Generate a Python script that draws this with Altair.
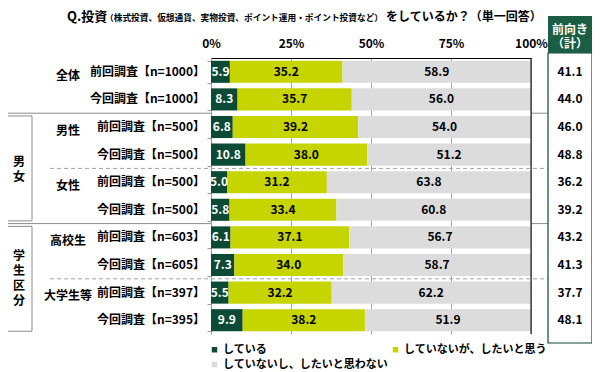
import altair as alt
import pandas as pd

FONT = "Noto Sans CJK JP"

groups = ["全体", "男性", "女性", "高校生", "大学生等"]
group_first_row = [0, 2, 4, 6, 8]
row_labels = ["前回調査【n=1000】", "今回調査【n=1000】", "前回調査【n=500】", "今回調査【n=500】",
              "前回調査【n=500】", "今回調査【n=500】", "前回調査【n=603】", "今回調査【n=605】",
              "前回調査【n=397】", "今回調査【n=395】"]
doing = [5.9, 8.3, 6.8, 10.8, 5.0, 5.8, 6.1, 7.3, 5.5, 9.9]
want = [35.2, 35.7, 39.2, 38.0, 31.2, 33.4, 37.1, 34.0, 32.2, 38.2]
nowant = [58.9, 56.0, 54.0, 51.2, 63.8, 60.8, 56.7, 58.7, 62.2, 51.9]
positive = ["41.1", "44.0", "46.0", "48.8", "36.2", "39.2", "43.2", "41.3", "37.7", "48.1"]
series = ["している", "していないが、したいと思う", "していないし、したいと思わない"]
colors = ["#0d4a35", "#c6d500", "#dcdcdc"]
text_colors = ["white", "black", "black"]
ticks = [0, 25, 50, 75, 100]
categories = ["男女", "学生区分"]
category_rows = [(2, 5, 3), (6, 9, 7)]
category_shift = [18.8, 1.8]
solid_rows = [2, 6]
dashed_rows = [4, 8]

rows = list(range(10))

recs = []
for r in rows:
    start = 0.0
    for s, vals in enumerate([doing, want, nowant]):
        v = vals[r]
        recs.append({"row": r, "series": series[s], "start": start, "end": start + v,
                     "mid": start + v / 2, "label": f"{v:.1f}", "tc": text_colors[s]})
        start += v
bars_df = pd.DataFrame(recs)
rows_df = pd.DataFrame({"row": rows, "label": row_labels, "pos": positive})
groups_df = pd.DataFrame({"row": group_first_row, "g": groups})
cat_df = pd.DataFrame({"r0": [c[0] for c in category_rows], "r1": [c[1] for c in category_rows],
                       "row": [c[2] for c in category_rows], "off": category_shift,
                       "txt": ["\n".join(list(c)) for c in categories]})
solid_df = pd.DataFrame({"row": solid_rows})
dashed_df = pd.DataFrame({"row": dashed_rows})
one = pd.DataFrame({"k": [0]})

yscale = alt.Scale(domain=rows, paddingInner=0.2, paddingOuter=0.1)
xscale = alt.Scale(domain=[0, 100], nice=False)

BOX_L, BOX_R, BOX_C = 337, 381, 359

bars = alt.Chart(bars_df).mark_bar().encode(
    x=alt.X("start:Q", scale=xscale, title=None,
            axis=alt.Axis(orient="top", values=ticks, labelExpr="datum.value + '%'",
                          grid=True, gridColor="#a6a6a6", domainColor="black", ticks=False,
                          labelFontSize=12, labelFontWeight="bold", labelFont=FONT,
                          labelPadding=8, labelColor="black", labelFlush=False)),
    x2="end:Q",
    y=alt.Y("row:O", scale=yscale, title=None,
            axis=alt.Axis(labels=False, tickBand="extent", domainColor="#999999",
                          tickColor="#999999", tickSize=4, grid=False)),
    color=alt.Color("series:N", scale=alt.Scale(domain=series, range=colors),
                    legend=alt.Legend(orient="none", legendX=-2, legendY=286, columns=2,
                                      direction="horizontal",
                                      title=None, symbolType="square", symbolSize=30,
                                      symbolStrokeWidth=0, labelFontSize=11,
                                      labelFontWeight="bold", labelFont=FONT,
                                      columnPadding=2, rowPadding=3, labelOffset=3,
                                      labelLimit=400, labelColor="black")),
)

bar_text = alt.Chart(bars_df).mark_text(font=FONT, fontSize=12, fontWeight="bold").encode(
    x=alt.X("mid:Q", scale=xscale, title=None),
    y=alt.Y("row:O", scale=yscale, title=None),
    text="label:N",
    color=alt.Color("tc:N", scale=None),
)

row_text = alt.Chart(rows_df).mark_text(font=FONT, fontSize=12, fontWeight="bold",
                                        align="right", color="black").encode(
    x=alt.value(-6),
    y=alt.Y("row:O", scale=yscale, title=None),
    text="label:N",
)

group_text = alt.Chart(groups_df).mark_text(font=FONT, fontSize=12, fontWeight="bold",
                                            align="center", color="black").encode(
    x=alt.value(-143),
    y=alt.Y("row:O", scale=yscale, title=None),
    yOffset=alt.value(14.8),
    text="g:N",
)

solid_left = alt.Chart(solid_df).mark_rule(color="#8c8c8c", strokeWidth=1).encode(
    x=alt.value(-209), x2=alt.value(0),
    y=alt.Y("row:O", scale=yscale, title=None, bandPosition=0),
    yOffset=alt.value(-2.76),
)
solid_right = alt.Chart(solid_df).mark_rule(color="#8c8c8c", strokeWidth=1).encode(
    x=alt.value(320), x2=alt.value(BOX_R),
    y=alt.Y("row:O", scale=yscale, title=None, bandPosition=0),
    yOffset=alt.value(-2.76),
)
dashed = alt.Chart(dashed_df).mark_rule(color="#a0a0a0", strokeWidth=1, strokeDash=[4, 3]).encode(
    x=alt.value(-161), x2=alt.value(BOX_R),
    y=alt.Y("row:O", scale=yscale, title=None, bandPosition=0),
    yOffset=alt.value(-2.76),
)

cat_box = alt.Chart(cat_df).mark_rect(fill="white", stroke="#8c8c8c", strokeWidth=1).encode(
    x=alt.value(-205), x2=alt.value(-179),
    y=alt.Y("r0:O", scale=yscale, title=None, bandPosition=0),
    y2=alt.Y2("r1:O", bandPosition=1),
)
cat_text = alt.Chart(cat_df).mark_text(font=FONT, fontSize=12, fontWeight="bold",
                                       lineBreak="\n", lineHeight=15, color="black").encode(
    x=alt.value(-192),
    y=alt.Y("row:O", scale=yscale, title=None),
    yOffset=alt.YOffset("off:Q", scale=None),
    text="txt:N",
)

right_border = alt.Chart(one).mark_rule(color="black", strokeWidth=1).encode(
    x=alt.value(320), y=alt.value(0), y2=alt.value(276))

box_body = alt.Chart(one).mark_rect(fill="white", stroke="#0d4a35", strokeWidth=1.2).encode(
    x=alt.value(BOX_L), x2=alt.value(BOX_R), y=alt.value(-5), y2=alt.value(285))
box_head = alt.Chart(one).mark_rect(fill="#1b5e43").encode(
    x=alt.value(BOX_L), x2=alt.value(BOX_R), y=alt.value(-42), y2=alt.value(-5))
head_text = alt.Chart(one).mark_text(font=FONT, fontSize=12, fontWeight="bold", color="white",
                                     lineBreak="\n", lineHeight=14).encode(
    x=alt.value(BOX_C), y=alt.value(-28), text=alt.value("前向き\n（計）"))
pos_text = alt.Chart(rows_df).mark_text(font=FONT, fontSize=12, fontWeight="bold",
                                        color="black").encode(
    x=alt.value(BOX_C),
    y=alt.Y("row:O", scale=yscale, title=None),
    text="pos:N",
)

title1 = alt.Chart(one).mark_text(font=FONT, fontSize=13, fontWeight="bold", align="left",
                                  color="black").encode(
    x=alt.value(-144), y=alt.value(-41), text=alt.value("Q.投資"))
title2 = alt.Chart(one).mark_text(font=FONT, fontSize=8.7, fontWeight="bold", align="left",
                                  color="black").encode(
    x=alt.value(-106), y=alt.value(-40),
    text=alt.value("（株式投資、仮想通貨、実物投資、ポイント運用・ポイント投資など）"))
title3 = alt.Chart(one).mark_text(font=FONT, fontSize=12, fontWeight="bold", align="left",
                                  color="black").encode(
    x=alt.value(175), y=alt.value(-41), text=alt.value("をしているか？（単一回答）"))

chart = alt.layer(
    solid_left, solid_right, dashed, bars, bar_text, right_border, row_text, group_text,
    cat_box, cat_text, box_body, box_head, head_text, pos_text, title1, title2, title3,
).properties(
    width=320, height=276,
    autosize=alt.AutoSizeParams(type="none"),
    padding={"left": 203, "top": 50, "right": 61, "bottom": 38},
    background="white",
).configure_view(stroke=None)

chart.save("out.html", embed_options={"renderer": "svg", "actions": False})
